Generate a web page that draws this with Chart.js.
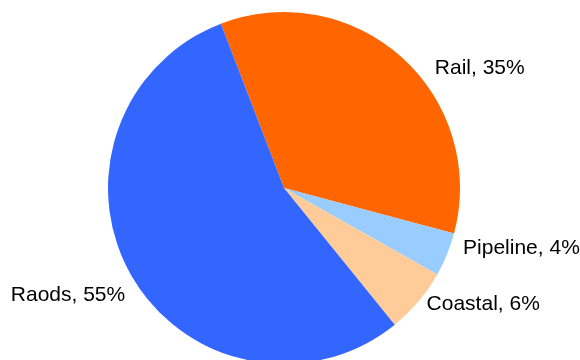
<!DOCTYPE html>
<html>
<head>
<meta charset="utf-8">
<script src="https://cdn.jsdelivr.net/npm/chart.js@4"></script>
<style>
  html, body { margin: 0; padding: 0; background: #fff; overflow: hidden; }
  #wrap { width: 580px; height: 370px; }
</style>
</head>
<body>
<div id="wrap"><canvas id="pieChart" width="580" height="370"></canvas></div>
<script>
const modes = ['Rail', 'Pipeline', 'Coastal', 'Raods'];
const shares = [35, 4, 6, 55];
const colors = ['#FF6600', '#99CCFF', '#FFCC99', '#3366FF'];
// small nudges for the outside labels (x, y), relative to the arc edge
const labelNudge = [[25, 26], [5, -5], [-1, 1], [4, 19]];

const outsideLabels = {
    id: 'outsideLabels',
    afterDatasetsDraw(chart) {
        const ctx = chart.ctx;
        const meta = chart.getDatasetMeta(0);
        ctx.save();
        ctx.font = '21px "Liberation Sans", Arial, sans-serif';
        ctx.fillStyle = '#000';
        ctx.textBaseline = 'alphabetic';
        meta.data.forEach((arc, i) => {
            const mid = (arc.startAngle + arc.endAngle) / 2;
            const r = arc.outerRadius + 12;
            const x = arc.x + Math.cos(mid) * r + labelNudge[i][0];
            const y = arc.y + Math.sin(mid) * r + labelNudge[i][1];
            ctx.textAlign = Math.cos(mid) >= 0 ? 'left' : 'right';
            ctx.fillText(`${modes[i]}, ${shares[i]}%`, x, y);
        });
        ctx.restore();
    }
};

const ctx = document.getElementById('pieChart').getContext('2d');
new Chart(ctx, {
    type: 'pie',
    data: {
        labels: modes,
        datasets: [{
            data: shares,
            backgroundColor: colors,
            borderWidth: 0,
            hoverOffset: 0
        }]
    },
    options: {
        responsive: false,
        animation: false,
        rotation: -21,
        layout: { padding: { top: 12, bottom: 6, left: 0, right: 12 } },
        plugins: {
            legend: { display: false },
            tooltip: { enabled: false }
        }
    },
    plugins: [outsideLabels]
});
</script>
</body>
</html>
